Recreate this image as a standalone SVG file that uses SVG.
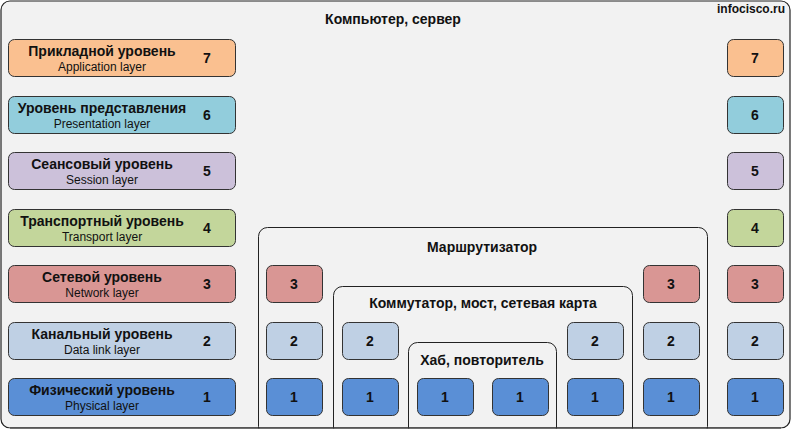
<svg xmlns="http://www.w3.org/2000/svg" width="792" height="430" viewBox="0 0 792 430">
<style>
text{font-family:"Liberation Sans",Arial,sans-serif;fill:#111;text-anchor:middle}
.t{font-size:14px;font-weight:bold}
.s{font-size:12px}
.n{font-size:14px;font-weight:bold}
.frame{fill:#f2f2f2;stroke:#222;stroke-width:1.2}
.cont{fill:none;stroke:#222;stroke-width:1}
.b{stroke:#333;stroke-width:1}
.l7{fill:#fac090}.l6{fill:#92cddc}.l5{fill:#ccc1da}.l4{fill:#c3d69b}.l3{fill:#d99694}.l2{fill:#bfd0e4}.l1{fill:#5a8fd6}
</style>
<rect class="frame" x="1" y="1" width="789" height="427" rx="9"/>
<text class="t" x="393" y="24">Компьютер, сервер</text>
<text class="t" x="751" y="13" style="font-size:12px">infocisco.ru</text>

<g id="router">
<rect class="cont" x="258.5" y="227.5" width="449" height="208" rx="9"/>
<text class="t" x="482" y="252">Маршрутизатор</text>
</g>
<g id="switch">
<rect class="cont" x="333.5" y="286.5" width="299" height="150" rx="9"/>
<text class="t" x="483" y="308">Коммутатор, мост, сетевая карта</text>
</g>
<g id="hub">
<rect class="cont" x="408.5" y="342.5" width="148" height="94" rx="9"/>
<text class="t" x="482" y="365">Хаб, повторитель</text>
</g>

<g id="pc-left">
<g id="app"><rect class="b l7" x="8.5" y="39.5" width="227" height="37" rx="6"/><text class="t" x="102" y="56">Прикладной уровень</text><text class="s" x="102" y="71">Application layer</text><text class="n" x="207" y="63">7</text></g>
<g id="pres"><rect class="b l6" x="8.5" y="96.5" width="227" height="37" rx="6"/><text class="t" x="102" y="113">Уровень представления</text><text class="s" x="102" y="128">Presentation layer</text><text class="n" x="207" y="120">6</text></g>
<g id="sess"><rect class="b l5" x="8.5" y="152.5" width="227" height="37" rx="6"/><text class="t" x="102" y="169">Сеансовый уровень</text><text class="s" x="102" y="184">Session layer</text><text class="n" x="207" y="176">5</text></g>
<g id="trans"><rect class="b l4" x="8.5" y="209.5" width="227" height="37" rx="6"/><text class="t" x="102" y="226">Транспортный уровень</text><text class="s" x="102" y="241">Transport layer</text><text class="n" x="207" y="233">4</text></g>
<g id="net"><rect class="b l3" x="8.5" y="265.5" width="227" height="37" rx="6"/><text class="t" x="102" y="282">Сетевой уровень</text><text class="s" x="102" y="297">Network layer</text><text class="n" x="207" y="289">3</text></g>
<g id="link"><rect class="b l2" x="8.5" y="322.5" width="227" height="37" rx="6"/><text class="t" x="102" y="339">Канальный уровень</text><text class="s" x="102" y="354">Data link layer</text><text class="n" x="207" y="346">2</text></g>
<g id="phys"><rect class="b l1" x="8.5" y="378.5" width="227" height="37" rx="6"/><text class="t" x="102" y="395">Физический уровень</text><text class="s" x="102" y="410">Physical layer</text><text class="n" x="207" y="402">1</text></g>
</g>

<g id="pc-right">
<g id="r7"><rect class="b l7" x="727.5" y="39.5" width="56" height="37" rx="6"/><text class="n" x="755" y="63">7</text></g>
<g id="r6"><rect class="b l6" x="727.5" y="96.5" width="56" height="37" rx="6"/><text class="n" x="755" y="120">6</text></g>
<g id="r5"><rect class="b l5" x="727.5" y="152.5" width="56" height="37" rx="6"/><text class="n" x="755" y="176">5</text></g>
<g id="r4"><rect class="b l4" x="727.5" y="209.5" width="56" height="37" rx="6"/><text class="n" x="755" y="233">4</text></g>
<g id="r3"><rect class="b l3" x="727.5" y="265.5" width="56" height="37" rx="6"/><text class="n" x="755" y="289">3</text></g>
<g id="r2"><rect class="b l2" x="727.5" y="322.5" width="56" height="37" rx="6"/><text class="n" x="755" y="346">2</text></g>
<g id="r1"><rect class="b l1" x="727.5" y="378.5" width="56" height="37" rx="6"/><text class="n" x="755" y="402">1</text></g>
</g>

<g id="router-left">
<g id="rl3"><rect class="b l3" x="266.5" y="265.5" width="56" height="37" rx="6"/><text class="n" x="294" y="289">3</text></g>
<g id="rl2"><rect class="b l2" x="266.5" y="322.5" width="56" height="37" rx="6"/><text class="n" x="294" y="346">2</text></g>
<g id="rl1"><rect class="b l1" x="266.5" y="378.5" width="56" height="37" rx="6"/><text class="n" x="294" y="402">1</text></g>
</g>
<g id="router-right">
<g id="rr3"><rect class="b l3" x="643.5" y="265.5" width="56" height="37" rx="6"/><text class="n" x="671" y="289">3</text></g>
<g id="rr2"><rect class="b l2" x="643.5" y="322.5" width="56" height="37" rx="6"/><text class="n" x="671" y="346">2</text></g>
<g id="rr1"><rect class="b l1" x="643.5" y="378.5" width="56" height="37" rx="6"/><text class="n" x="671" y="402">1</text></g>
</g>
<g id="switch-left">
<g id="sl2"><rect class="b l2" x="342.5" y="322.5" width="56" height="37" rx="6"/><text class="n" x="370" y="346">2</text></g>
<g id="sl1"><rect class="b l1" x="342.5" y="378.5" width="56" height="37" rx="6"/><text class="n" x="370" y="402">1</text></g>
</g>
<g id="switch-right">
<g id="sr2"><rect class="b l2" x="567.5" y="322.5" width="56" height="37" rx="6"/><text class="n" x="595" y="346">2</text></g>
<g id="sr1"><rect class="b l1" x="567.5" y="378.5" width="56" height="37" rx="6"/><text class="n" x="595" y="402">1</text></g>
</g>
<g id="hub-ports">
<g id="hl1"><rect class="b l1" x="417.5" y="378.5" width="56" height="37" rx="6"/><text class="n" x="445" y="402">1</text></g>
<g id="hr1"><rect class="b l1" x="492.5" y="378.5" width="56" height="37" rx="6"/><text class="n" x="520" y="402">1</text></g>
</g>
<g id="connectors"/>
<rect x="0" y="428.6" width="792" height="2" fill="#fff"/>
<line x1="10" y1="428" x2="781" y2="428" stroke="#222" stroke-width="1.2"/>
</svg>
